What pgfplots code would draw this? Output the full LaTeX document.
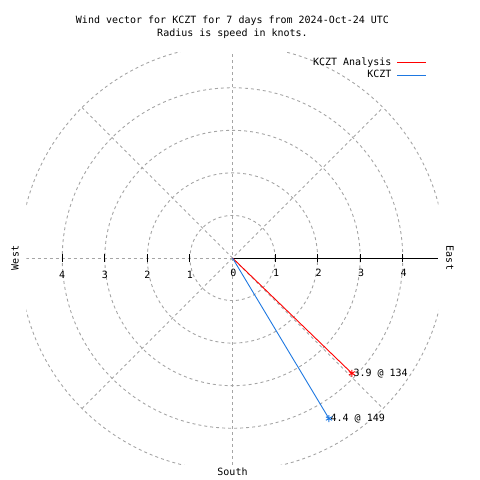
\documentclass[border=0pt]{standalone}
\usepackage{pgfplots}
\pgfplotsset{compat=1.18}
\usepackage{fontspec}
\setmainfont{DejaVu Sans Mono}
\definecolor{gridgray}{RGB}{165,165,165}
\definecolor{kblue}{RGB}{30,120,225}
\begin{document}
\fontsize{10pt}{12pt}\selectfont
\begin{tikzpicture}[x=1pt,y=1pt]
\path (0,0) rectangle (480,480);
\node[anchor=base,inner sep=0pt] at (232.5,456) {Wind vector for KCZT for 7 days from 2024-Oct-24 UTC};
\node[anchor=base,inner sep=0pt] at (232.5,443) {Radius is speed in knots.};
\node[rotate=90,inner sep=0pt] at (15,222) {West};
\node[rotate=-90,inner sep=0pt] at (450,222) {East};
\node[anchor=base,inner sep=0pt] at (232.5,5) {South};
\begin{axis}[
  at={(26.5pt,16pt)}, anchor=south west,
  scale only axis, width=412pt, height=412pt,
  xmin=-4.84, xmax=4.84, ymin=-4.84, ymax=4.84,
  axis lines=none, ticks=none, clip=true,
  legend plot pos=right,
  legend cell align=right,
  legend style={draw=none, fill=none, at={(0.972,0.99)}, anchor=north east,
    inner sep=0pt, row sep=0pt, column sep=4pt,
    nodes={inner sep=1.5pt, text height=7.5pt, text depth=2pt}},
  legend image code/.code={\draw[#1, mark=none] (0pt,0pt) -- (29pt,0pt);},
]
\pgfplotsinvokeforeach{1,2,3,4,5}{
  \draw[gridgray, line width=0.9pt, dash pattern=on 3pt off 3pt] (axis cs:0,0) circle[radius=#1*42.562pt];
}
\draw[gridgray, line width=0.9pt, dash pattern=on 3pt off 3pt] (axis cs:0,-5) -- (axis cs:0,5);
\draw[gridgray, line width=0.9pt, dash pattern=on 3pt off 3pt] (axis cs:-5,0) -- (axis cs:0,0);
\draw[gridgray, line width=0.9pt, dash pattern=on 3pt off 3pt] (axis cs:-3.536,-3.536) -- (axis cs:3.536,3.536);
\draw[gridgray, line width=0.9pt, dash pattern=on 3pt off 3pt] (axis cs:-3.536,3.536) -- (axis cs:3.536,-3.536);
\draw[black, line width=1pt] (axis cs:0,0) -- (axis cs:4.84,0);
\pgfplotsinvokeforeach{1,2,3,4}{
  \draw[black, line width=1pt] ([yshift=-4pt]axis cs:#1,0) -- ([yshift=4pt]axis cs:#1,0);
  \draw[black, line width=1pt] ([yshift=-4pt]axis cs:-#1,0) -- ([yshift=4pt]axis cs:-#1,0);
  \node[inner sep=0pt] at (axis cs:#1,0) [yshift=-15pt, xshift=1pt] {#1};
  \node[inner sep=0pt] at (axis cs:-#1,0) [yshift=-17pt] {#1};
}
\node[inner sep=0pt] at (axis cs:0,0) [yshift=-15pt, xshift=1pt] {0};
\addplot[red, line width=0.9pt, mark=asterisk, mark indices={2}, mark size=3.5pt, mark options={solid, line width=0.9pt}]
  coordinates {(0,0) (2.805,-2.709)};
\addlegendentry{KCZT Analysis}
\addplot[kblue, line width=0.9pt, mark=asterisk, mark indices={2}, mark size=3.5pt, mark options={solid, line width=0.9pt}]
  coordinates {(0,0) (2.266,-3.772)};
\addlegendentry{KCZT}
\node[anchor=base west, inner sep=0pt] at (axis cs:2.805,-2.709) [xshift=1.5pt, yshift=-3pt] {3.9 @ 134};
\node[anchor=base west, inner sep=0pt] at (axis cs:2.266,-3.772) [xshift=1.5pt, yshift=-3pt] {4.4 @ 149};
\end{axis}
\end{tikzpicture}
\end{document}
